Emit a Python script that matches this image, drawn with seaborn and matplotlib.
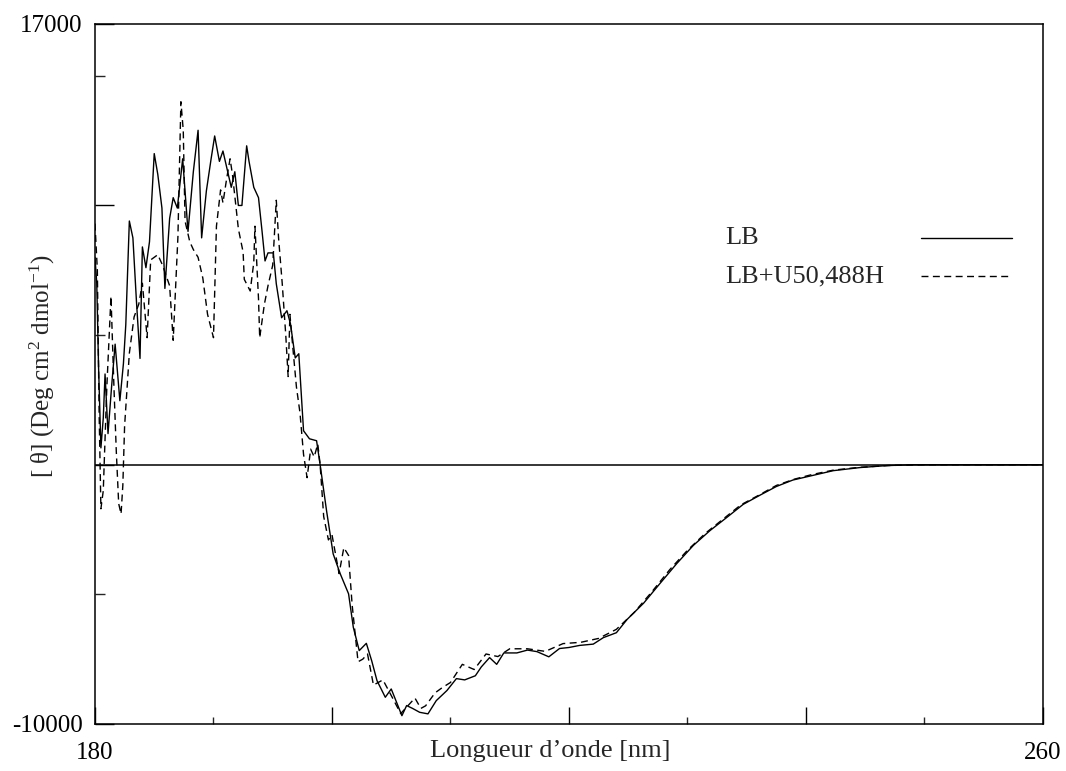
import matplotlib
matplotlib.use("Agg")
import matplotlib.pyplot as plt
from matplotlib.ticker import FixedLocator
import numpy as np
import pandas as pd
import seaborn as sns

# --- CD spectra: wavelength (nm) and mean residue ellipticity ---
lb_nm = [180.0, 180.15, 180.3, 180.5, 180.7, 180.85, 181.1, 181.4, 181.7, 182.1,
         182.4, 182.6, 182.9, 183.2, 183.5, 183.8, 184.0, 184.3, 184.6, 185.0,
         185.3, 185.65, 185.9, 186.3, 186.6, 186.95, 187.4, 187.85, 188.3, 188.7,
         189.0, 189.4, 189.8, 190.1, 190.5, 190.8, 191.1, 191.5, 191.8, 192.1,
         192.4, 192.8, 193.0, 193.4, 193.8, 194.1, 194.35, 194.6, 195.05, 195.3,
         195.75, 196.2, 196.5, 196.9, 197.2, 197.6, 198.1, 198.7, 199.0, 199.55,
         200.1, 200.7, 201.4, 201.8, 202.3, 202.9, 203.35, 203.8, 204.5, 205.0,
         205.5, 205.9, 206.3, 206.8, 207.4, 208.1, 208.8, 209.7, 210.5, 211.2,
         212.1, 212.6, 213.3, 213.9, 214.5, 215.6, 216.5, 217.3, 218.3, 219.2,
         220.0, 220.9, 222.05, 222.9, 224.0, 224.9, 226.3, 227.7, 229.1, 230.5,
         231.9, 233.3, 234.7, 236.1, 237.5, 238.9, 240.6, 242.3, 244.55, 246.8,
         249.0, 252.0, 256.0, 260.0]
lb_theta = [8000, 7000, 3800, 650, 1800, 3500, 1200, 3000, 4650, 2470,
            3900, 5400, 9400, 8750, 6300, 4100, 8400, 7600, 8600, 12000,
            11200, 9900, 6800, 9500, 10300, 9900, 11800, 9000, 11300, 12900,
            8750, 10560, 11800, 12680, 11700, 12100, 11500, 10700, 11300, 10000,
            10000, 12300, 11700, 10700, 10300, 9000, 7860, 8170, 8170, 6980,
            5670, 5940, 5430, 4120, 4280, 1310, 1000, 925, 0, -1800,
            -3440, -4210, -4980, -6270, -7170, -6890, -7560, -8330, -8970, -8650,
            -9220, -9680, -9290, -9400, -9550, -9610, -9100, -8710, -8250, -8300,
            -8140, -7800, -7440, -7700, -7260, -7260, -7150, -7210, -7410, -7090,
            -7050, -6970, -6920, -6670, -6480, -5970, -5340, -4570, -3810, -3110,
            -2540, -2040, -1530, -1180, -840, -590, -410, -230, -110, -35,
            0, 0, 0, 0]

u50_nm = [180.0, 180.2, 180.35, 180.5, 180.7, 181.0, 181.35, 181.6, 181.8, 182.0,
          182.2, 182.35, 182.5, 182.9, 183.3, 183.7, 184.0, 184.4, 184.7, 185.3,
          185.7, 186.3, 186.6, 187.0, 187.25, 187.45, 187.6, 188.0, 188.3, 188.7,
          189.1, 189.5, 190.0, 190.25, 190.6, 190.8, 191.1, 191.4, 191.6, 192.1,
          192.5, 192.6, 193.1, 193.4, 193.5, 193.8, 193.9, 194.3, 194.6, 195.0,
          195.3, 195.5, 195.8, 196.1, 196.3, 196.45, 196.7, 197.0, 197.3, 197.6,
          197.9, 198.2, 198.5, 198.8, 199.0, 199.3, 199.7, 200.0, 200.6, 201.0,
          201.4, 201.7, 202.2, 202.6, 203.0, 203.5, 204.3, 205.0, 205.8, 206.4,
          207.0, 207.5, 207.9, 208.7, 209.3, 210.0, 211.0, 212.0, 213.0, 214.0,
          215.0, 216.5, 218.0, 219.5, 221.0, 222.5, 224.0, 225.5, 227.0, 228.5,
          230.0, 231.5, 233.0, 234.5, 236.0, 237.5, 239.0, 240.5, 242.3, 244.5,
          247.0, 250.0, 255.0, 260.0]
u50_theta = [9300, 7500, 2000, -1700, -1000, 3000, 6500, 3000, 500, -1500,
             -1900, -800, 1500, 4300, 5700, 6200, 7000, 4900, 7900, 8100,
             7700, 6900, 4800, 8800, 14000, 12900, 9400, 8600, 8300, 8000,
             7200, 5800, 4900, 9200, 10600, 10100, 11000, 11800, 11200, 9100,
             8200, 7150, 6700, 7800, 9200, 6400, 4900, 6200, 6900, 7700,
             10200, 8700, 7000, 5000, 3400, 5800, 4500, 3000, 2000, 400,
             -500, 600, 300, 800, 0, -2000, -2900, -2700, -4200, -3200,
             -3500, -5400, -7600, -7500, -7300, -8500, -8300, -8900, -9600, -9300,
             -9000, -9400, -9300, -8800, -8600, -8400, -7700, -7900, -7300, -7400,
             -7100, -7100, -7200, -6900, -6850, -6700, -6350, -5700, -4900, -4050,
             -3300, -2650, -2100, -1550, -1180, -800, -560, -380, -210, -100,
             -30, 0, 0, 0]

series_names = ["LB", "LB+U50,488H"]

x_major = [180, 200, 220, 240, 260]
x_major_labels = ["180", "", "", "", "260"]
x_minor = [190, 210, 230, 250]
y_major = [-10000, 0, 10000, 17000]
y_major_labels = ["-10000", "", "", "17000"]
y_minor = [-5000, 5000, 15000]

df = pd.concat([
    pd.DataFrame({"nm": lb_nm, "theta": lb_theta, "serie": series_names[0]}),
    pd.DataFrame({"nm": u50_nm, "theta": u50_theta, "serie": series_names[1]}),
], ignore_index=True)

sns.set_theme(style="ticks")
plt.rcParams["font.family"] = ["Liberation Serif", "DejaVu Serif"]
plt.rcParams["mathtext.fontset"] = "custom"
plt.rcParams["mathtext.rm"] = "Liberation Serif"
plt.rcParams["mathtext.it"] = "Liberation Serif:italic"

fig = plt.figure(figsize=(10.66, 7.71), dpi=100)
ax = fig.add_axes([0.0891, 0.061, 0.8893, 0.9079])

dash_styles = {series_names[0]: "", series_names[1]: (5, 3.2)}
sns.lineplot(data=df, x="nm", y="theta", style="serie", dashes=dash_styles,
             color="black", linewidth=1.0, estimator=None, sort=False,
             legend=False, ax=ax)

ax.axhline(0, color="black", linewidth=1.1, zorder=1)

ax.set_xlim(180, 260)
ax.set_ylim(-10000, 17000)

ax.xaxis.set_major_locator(FixedLocator(x_major))
ax.xaxis.set_minor_locator(FixedLocator(x_minor))
ax.set_xticklabels(x_major_labels)
ax.yaxis.set_major_locator(FixedLocator(y_major))
ax.yaxis.set_minor_locator(FixedLocator(y_minor))
ax.set_yticklabels(y_major_labels)

ax.tick_params(axis="x", which="major", direction="in", length=12, width=1.0,
               labelsize=18, pad=13, colors="black")
ax.tick_params(axis="x", which="minor", direction="in", length=5, width=1.0)
ax.tick_params(axis="y", which="major", direction="in", length=14, width=1.0,
               labelsize=18, pad=9, colors="black")
ax.tick_params(axis="y", which="minor", direction="in", length=7, width=1.0)

for side in ["left", "right", "top", "bottom"]:
    ax.spines[side].set_visible(True)
    ax.spines[side].set_color("black")
    ax.spines[side].set_linewidth(1.1)

ax.set_xlabel("Longueur d\u2019onde [nm]", fontsize=19)
ax.xaxis.set_label_coords(0.48, -0.047)
ax.xaxis.label.set_va("baseline")

ax.set_ylabel(r"[ θ] (Deg cm$^{2}$ dmol$^{-1}$)", fontsize=18)
ax.yaxis.set_label_coords(-0.055, 0.511)
ax.yaxis.label.set_va("center")

# legend: labels on the left, line keys on the right
key_x0, key_x1, text_x = 0.8713, 0.9673, 0.665
for i, name in enumerate(series_names):
    yk = 0.694 - i * 0.054
    ax.plot([key_x0, key_x1], [yk, yk], transform=ax.transAxes, color="black",
            linewidth=1.0, dashes=dash_styles[name] if dash_styles[name] else (None, None))
    ax.text(text_x, yk, name, transform=ax.transAxes, fontsize=19,
            ha="left", va="center")

fig.savefig("out.png", dpi=100)
